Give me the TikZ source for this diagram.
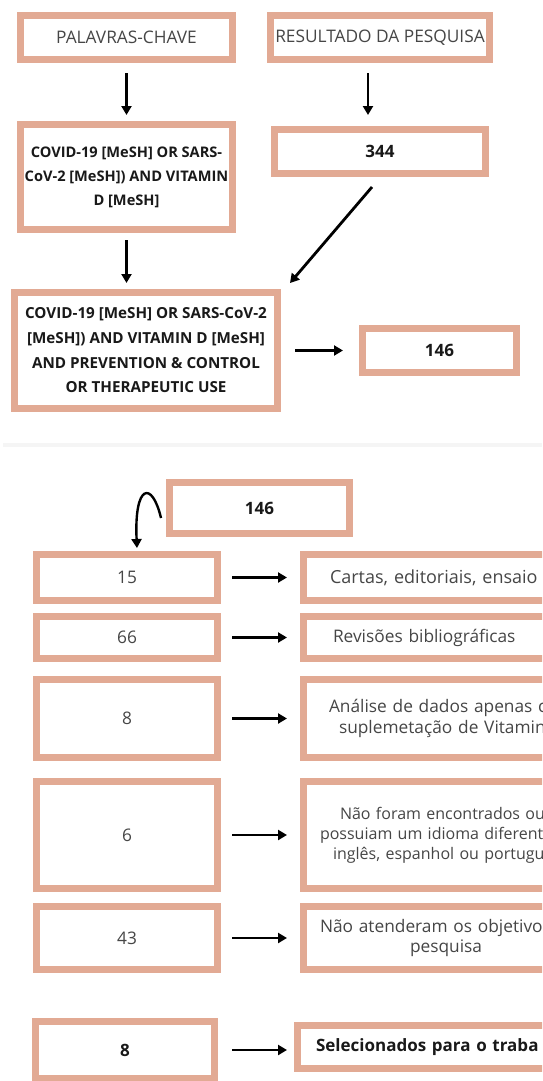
\documentclass[tikz,border=0pt]{standalone}
\usepackage{fontspec}
\setmainfont{Open Sans}
\usetikzlibrary{calc,arrows.meta}
\definecolor{boxtan}{RGB}{226,170,148}
\definecolor{txtgray}{RGB}{70,70,70}
\tikzset{
  box/.style={draw=boxtan, line width=7pt, fill=white, inner sep=0pt, align=center, text=txtgray, font=\fontsize{17.3}{20.5}\selectfont},
  boldbox/.style={box, text=black!90, font=\fontsize{15.2}{24.7}\selectfont\bfseries},
  numbox/.style={box, text=black!90, font=\fontsize{17}{20}\selectfont\bfseries},
  sidebox/.style={box, anchor=west, align=left, text width=300pt, inner xsep=12.5pt},
  arr/.style={-{Triangle[length=9pt,width=10pt]}, line width=2.8pt},
}
\newcommand{\ind}[1]{\hspace*{#1pt}}

\begin{document}
\begin{tikzpicture}[x=1pt,y=-1pt]
			%%%%% START %%%%%
			\useasboundingbox (0,0) rectangle (542,1081);
			\clip (0,0) rectangle (542,1081);
			
			\node[box, minimum width=212, minimum height=44] (kw) at (126.5,37.5) {PALAVRAS-CHAVE};
			\node[box, minimum width=219, minimum height=44] (res) at (380,37.5) {RESULTADO DA PESQUISA};
			
			\node[boldbox, font=\fontsize{14.6}{24}\selectfont\bfseries, minimum width=212, minimum height=105] (q1) at (126.5,177) {COVID-19 [MeSH] OR SARS-\\CoV-2 [MeSH]) AND VITAMIN\\D [MeSH]};
			\node[numbox, minimum width=211, minimum height=44] (n344) at (380,151.5) {344};
			
			\node[boldbox, minimum width=263, minimum height=116] (q2) at (146,350.5) {COVID-19 [MeSH] OR SARS-CoV-2\\{}[MeSH]) AND VITAMIN D [MeSH]\\ AND PREVENTION \& CONTROL\\ OR THERAPEUTIC USE};
			\node[numbox, minimum width=154, minimum height=44] (n146a) at (439.5,350.5) {146};
			
			\draw[arr, shorten <=10pt, shorten >=6pt] (kw) -- (q1);
			\draw[arr, shorten <=10pt, shorten >=11pt] ([xshift=-12pt]res.south) -- ([xshift=-12pt]res.south |- n344.north);
			\draw[arr] ([shift={(-8,10)}]n344.south) -- ([shift={(9,-6)}]q2.north east);
			\draw[arr, shorten <=7pt, shorten >=6pt] (q1.south) -- (q1.south |- q2.north);
			\draw[arr, shorten <=14pt, shorten >=16pt] (q2) -- (n146a);
			
			\draw[black!4, line width=4pt] (3,445) -- (542,445);
			
			\node[numbox, minimum width=180, minimum height=51] (n146b) at (259.5,508) {146};
			
			\node[box, minimum width=181, minimum height=46] (a15) at (127,577.5) {15};
			\node[box, minimum width=181, minimum height=42] (a66) at (127,637.5) {66};
			\node[box, minimum width=181, minimum height=78] (a8) at (127,718.5) {8};
			\node[box, minimum width=181, minimum height=107] (a6) at (127,835) {6};
			\node[box, minimum width=181, minimum height=63] (a43) at (127,938) {43};
			\node[numbox, minimum width=179, minimum height=57] (sel8) at (125,1050) {8};
			
			\node[sidebox, font=\fontsize{18}{21}\selectfont, minimum height=46] (r15) at (300,577.5) {\ind{14}Cartas, editoriais, ensaio};
			\node[sidebox, minimum height=42] (r66) at (300,637.5) {\ind{17}Revisões bibliográficas};
			\node[sidebox, minimum height=78] (r8) at (300,718.5) {\ind{13}Análise de dados apenas c\\ \ind{23}suplemetação de Vitamina};
			\node[sidebox, font=\fontsize{16}{20}\selectfont, minimum height=107] (r6) at (300,835) {\ind{24}Não foram encontrados ou\\ \ind{4}possuiam um idioma diferente\\ \ind{17}inglês, espanhol ou portugu};
			\node[sidebox, minimum height=63] (r43) at (300,938) {\ind{4}Não atenderam os objetivos\\ \ind{94}pesquisa};
			\node[sidebox, numbox, anchor=west, align=left, text width=300pt, inner xsep=12.5pt, minimum height=43] (rsel) at (294,1047) {\ind{6}Selecionados para o traba};
			
			\draw[arr, line width=2.4pt] ([shift={(-5,10)}]n146b.west) .. controls +(-9,-38) and +(-3,-64) .. ([shift={(10,-3)}]a15.north);
			
			\draw[arr, shorten <=11pt, shorten >=13pt] (a15) -- (r15);
			\draw[arr, shorten <=11pt, shorten >=13pt] (a66) -- (r66);
			\draw[arr, shorten <=11pt, shorten >=13pt] (a8) -- (r8);
			\draw[arr, shorten <=11pt, shorten >=13pt] (a6) -- (r6);
			\draw[arr, shorten <=11pt, shorten >=13pt] (a43) -- (r43);
			\draw[arr, shorten <=14pt, shorten >=7pt] (sel8.east) -- (sel8.east -| rsel.west);
			
			%%%%% END %%%%%
\end{tikzpicture}
\end{document}
